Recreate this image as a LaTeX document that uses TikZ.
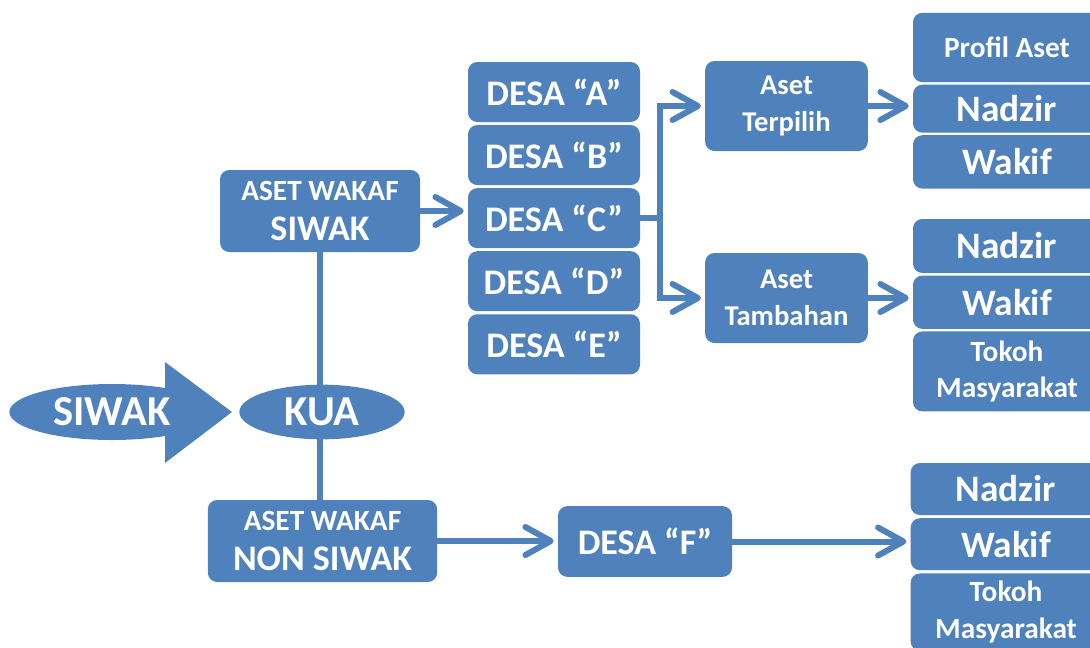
\documentclass[tikz,border=0pt]{standalone}
\usepackage{fontspec}
\setmainfont{Carlito}
\usepackage{xcolor}
\usetikzlibrary{positioning, arrows.meta, shapes.geometric}
\definecolor{biru}{RGB}{79,129,189}
\tikzset{
  kotak/.style={fill=biru, text=white, rounded corners=7pt, inner sep=0pt, align=center, font=\bfseries},
  desa/.style={kotak, minimum width=129pt, minimum height=45pt, font=\bfseries\fontsize{27}{30}\selectfont},
  tumpuk/.style={kotak, minimum width=141pt, font=\bfseries\fontsize{28}{30}\selectfont},
  aset/.style={kotak, minimum width=122pt, minimum height=67.5pt, font=\bfseries\fontsize{21.5}{27.5}\selectfont},
  kecil/.style={font=\bfseries\fontsize{22}{27.5}\selectfont},
  lonjong/.style={ellipse, fill=biru, text=white, inner sep=0pt, font=\bfseries\fontsize{32}{36}\selectfont},
  garis/.style={draw=biru, line width=4.5pt},
  panah/.style={garis, -{Straight Barb[length=19pt, width=21pt, round]}, shorten >=3pt},
}

\begin{document}
\begin{tikzpicture}[x=0.75pt, y=-0.75pt]
\clip (0,0) rectangle (1090,647);

% Panah SIWAK
\fill[biru] (165,362) -- (232,412) -- (165,463) -- cycle;
\node[lonjong, minimum width=154pt, minimum height=42pt] (siwak) at (112,412) {SIWAK};

% Aset wakaf siwak dan non siwak
\node[kotak, minimum width=150pt, minimum height=61.5pt, font=\bfseries\fontsize{27}{30}\selectfont] (swk) at (320,211) {{\fontsize{22}{27}\selectfont ASET WAKAF}\\SIWAK};
\node[kotak, minimum width=172pt, minimum height=61.5pt, font=\bfseries\fontsize{27}{30}\selectfont] (nonswk) at (322.5,541) {{\fontsize{22}{27}\selectfont ASET WAKAF}\\NON SIWAK};

% Garis tegak lewat KUA
\draw[garis] (swk.south) -- (swk.south |- nonswk.north);
\node[lonjong, minimum width=124pt, minimum height=41pt] (kua) at (322,412) {KUA};

% Desa A sampai E
\node[desa] (desaA) at (554,92) {DESA “A”};
\node[desa, below=1.9pt of desaA] (desaB) {DESA “B”};
\node[desa, below=1.9pt of desaB] (desaC) {DESA “C”};
\node[desa, below=1.9pt of desaC] (desaD) {DESA “D”};
\node[desa, below=1.9pt of desaD] (desaE) {DESA “E”};
\draw[panah] (swk.east) -- (swk.east -| desaC.west);

% Aset terpilih dan tambahan
\node[aset] (terpilih) at (786.5,106) {Aset\\Terpilih};
\node[aset] (tambahan) at (786.5,298) {Aset\\Tambahan};
\draw[garis] (desaC.east) -- ++(20,0) coordinate (cabang);
\draw[panah] (cabang) |- (terpilih.west);
\draw[panah] (cabang) |- (tambahan.west);

% Tumpukan kanan atas
\node[tumpuk, minimum height=52pt, kecil] (profil) at (1007,47.5) {Profil Aset};
\node[tumpuk, minimum height=36pt, below=1.5pt of profil] (nadzirA) {Nadzir};
\node[tumpuk, minimum height=40pt, below=1.5pt of nadzirA] (wakifA) {Wakif};
\draw[panah] (terpilih.east) -- (terpilih.east -| nadzirA.west);

% Tumpukan kanan tengah
\node[tumpuk, minimum height=40.5pt] (nadzirB) at (1007,246) {Nadzir};
\node[tumpuk, minimum height=40pt, below=1.5pt of nadzirB] (wakifB) {Wakif};
\node[tumpuk, minimum height=60pt, below=1.5pt of wakifB, kecil] (tokohB) {Tokoh\\Masyarakat};
\draw[panah] (tambahan.east) -- (tambahan.east -| wakifB.west);

% Desa F dan tumpukan kanan bawah
\node[kotak, minimum width=130.5pt, minimum height=53pt, font=\bfseries\fontsize{27}{30}\selectfont] (desaF) at (645,541.5) {DESA “F”};
\node[tumpuk, minimum width=143pt, minimum height=39pt] (nadzirC) at (1006,489) {Nadzir};
\node[tumpuk, minimum width=143pt, minimum height=39pt, below=2pt of nadzirC] (wakifC) {Wakif};
\node[tumpuk, minimum width=143pt, minimum height=58pt, below=2pt of wakifC, kecil] (tokohC) {Tokoh\\Masyarakat};
\draw[panah] (nonswk.east) -- (nonswk.east -| desaF.west);
\draw[panah] (desaF.east) -- (desaF.east -| wakifC.west);

\end{tikzpicture}
\end{document}
